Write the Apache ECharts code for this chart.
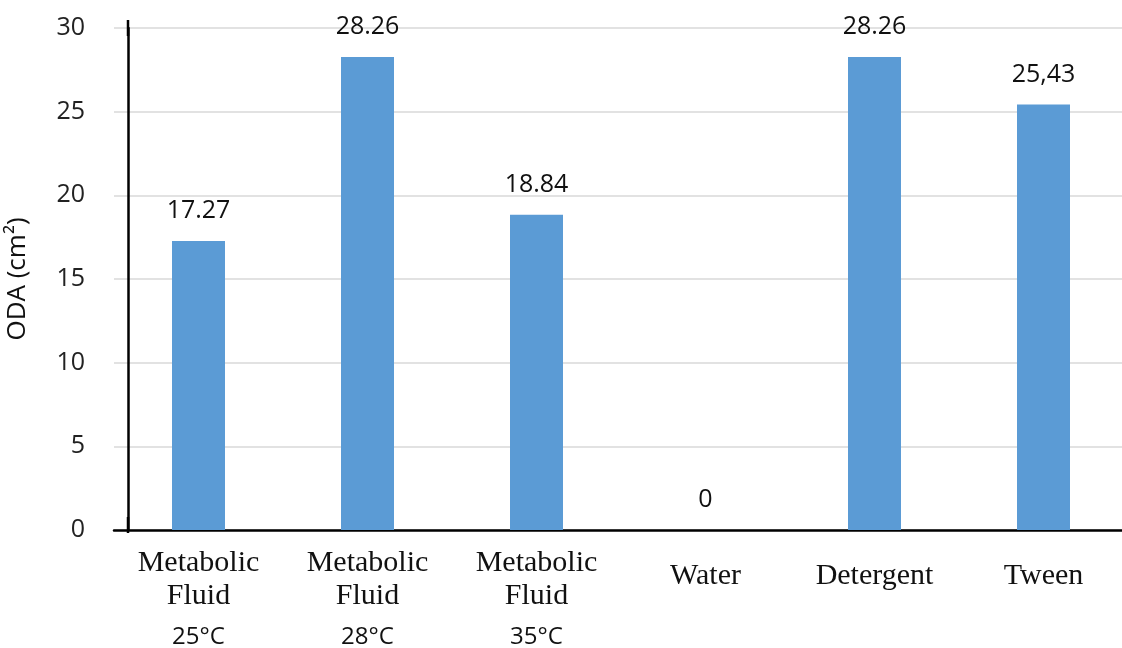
<!DOCTYPE html>
<html>
<head>
<meta charset="utf-8">
<script src="https://cdn.jsdelivr.net/npm/echarts@6/dist/echarts.min.js"></script>
<style>
  html, body { margin: 0; padding: 0; background: #fff; }
  #chart { width: 1122px; height: 648px; }
</style>
</head>
<body>
<div id="chart"></div>
<script>
// Treatments along the x axis, with the incubation temperature where one applies
const categories = ['Metabolic\nFluid', 'Metabolic\nFluid', 'Metabolic\nFluid', 'Water', 'Detergent', 'Tween'];
const temperatures = ['25°C', '28°C', '35°C', '', '', ''];
// Oil displacement area per treatment (cm²)
const odaValues = [17.27, 28.26, 18.84, 0, 28.26, 25.43];
// Decimal mark printed in each value label
const decimalMarks = ['.', '.', '.', '.', '.', ','];
// Value axis ticks
const yTicks = { min: 0, max: 30, interval: 5 };
const yAxisName = 'ODA (cm²)';

const sansFont = '"Open Sans", "Noto Sans", sans-serif';
const serifFont = '"Liberation Serif", "DejaVu Serif", serif';

function valueLabel(v, i) {
  if (v === 0) return '0';
  return v.toFixed(2).replace('.', decimalMarks[i]);
}

function categoryLabel(name, i) {
  const lines = name.split('\n');
  if (temperatures[i]) {
    return lines.map(l => '{n|' + l + '}').join('\n') + '\n{t|' + temperatures[i] + '}';
  }
  return '{s|' + name + '}';
}

const chart = echarts.init(document.getElementById('chart'), null, { renderer: 'canvas' });

chart.setOption({
  animation: false,
  backgroundColor: '#ffffff',
  grid: { left: 114, width: 1014, top: 28, height: 502, containLabel: false, outerBoundsMode: 'none' },
  xAxis: {
    type: 'category',
    data: categories,
    axisLine: { lineStyle: { color: '#000', width: 2.5 } },
    axisTick: { show: false },
    axisLabel: {
      margin: 17,
      interval: 0,
      formatter: (val, idx) => categoryLabel(val, idx),
      rich: {
        n: { fontFamily: serifFont, fontSize: 30, lineHeight: 33, color: '#111', align: 'center' },
        t: { fontFamily: sansFont, fontSize: 24, lineHeight: 49, color: '#111', align: 'center' },
        s: { fontFamily: serifFont, fontSize: 30, lineHeight: 58, color: '#111', align: 'center' }
      }
    }
  },
  yAxis: {
    type: 'value',
    min: yTicks.min,
    max: yTicks.max,
    interval: yTicks.interval,
    offset: -14,
    name: yAxisName,
    nameLocation: 'middle',
    nameGap: 97,
    nameRotate: 90,
    nameTextStyle: { fontFamily: sansFont, fontSize: 26, color: '#111' },
    axisLine: {
      show: true,
      lineStyle: { color: '#000', width: 2.5 },
      symbol: ['rect', 'rect'],
      symbolSize: [2.5, 16],
      symbolOffset: [5, 0]
    },
    axisTick: { show: false },
    axisLabel: { margin: 43, fontFamily: sansFont, fontSize: 25, color: '#222' },
    splitLine: { show: true, lineStyle: { color: '#d9d9d9', width: 1.5 } }
  },
  series: [{
    type: 'bar',
    data: odaValues,
    barWidth: 53,
    itemStyle: { color: '#5b9bd5' },
    label: {
      show: true,
      position: 'top',
      distance: 16,
      fontFamily: sansFont,
      fontSize: 25,
      lineHeight: 28,
      color: '#111',
      formatter: p => valueLabel(p.value, p.dataIndex)
    }
  }]
});
</script>
</body>
</html>
